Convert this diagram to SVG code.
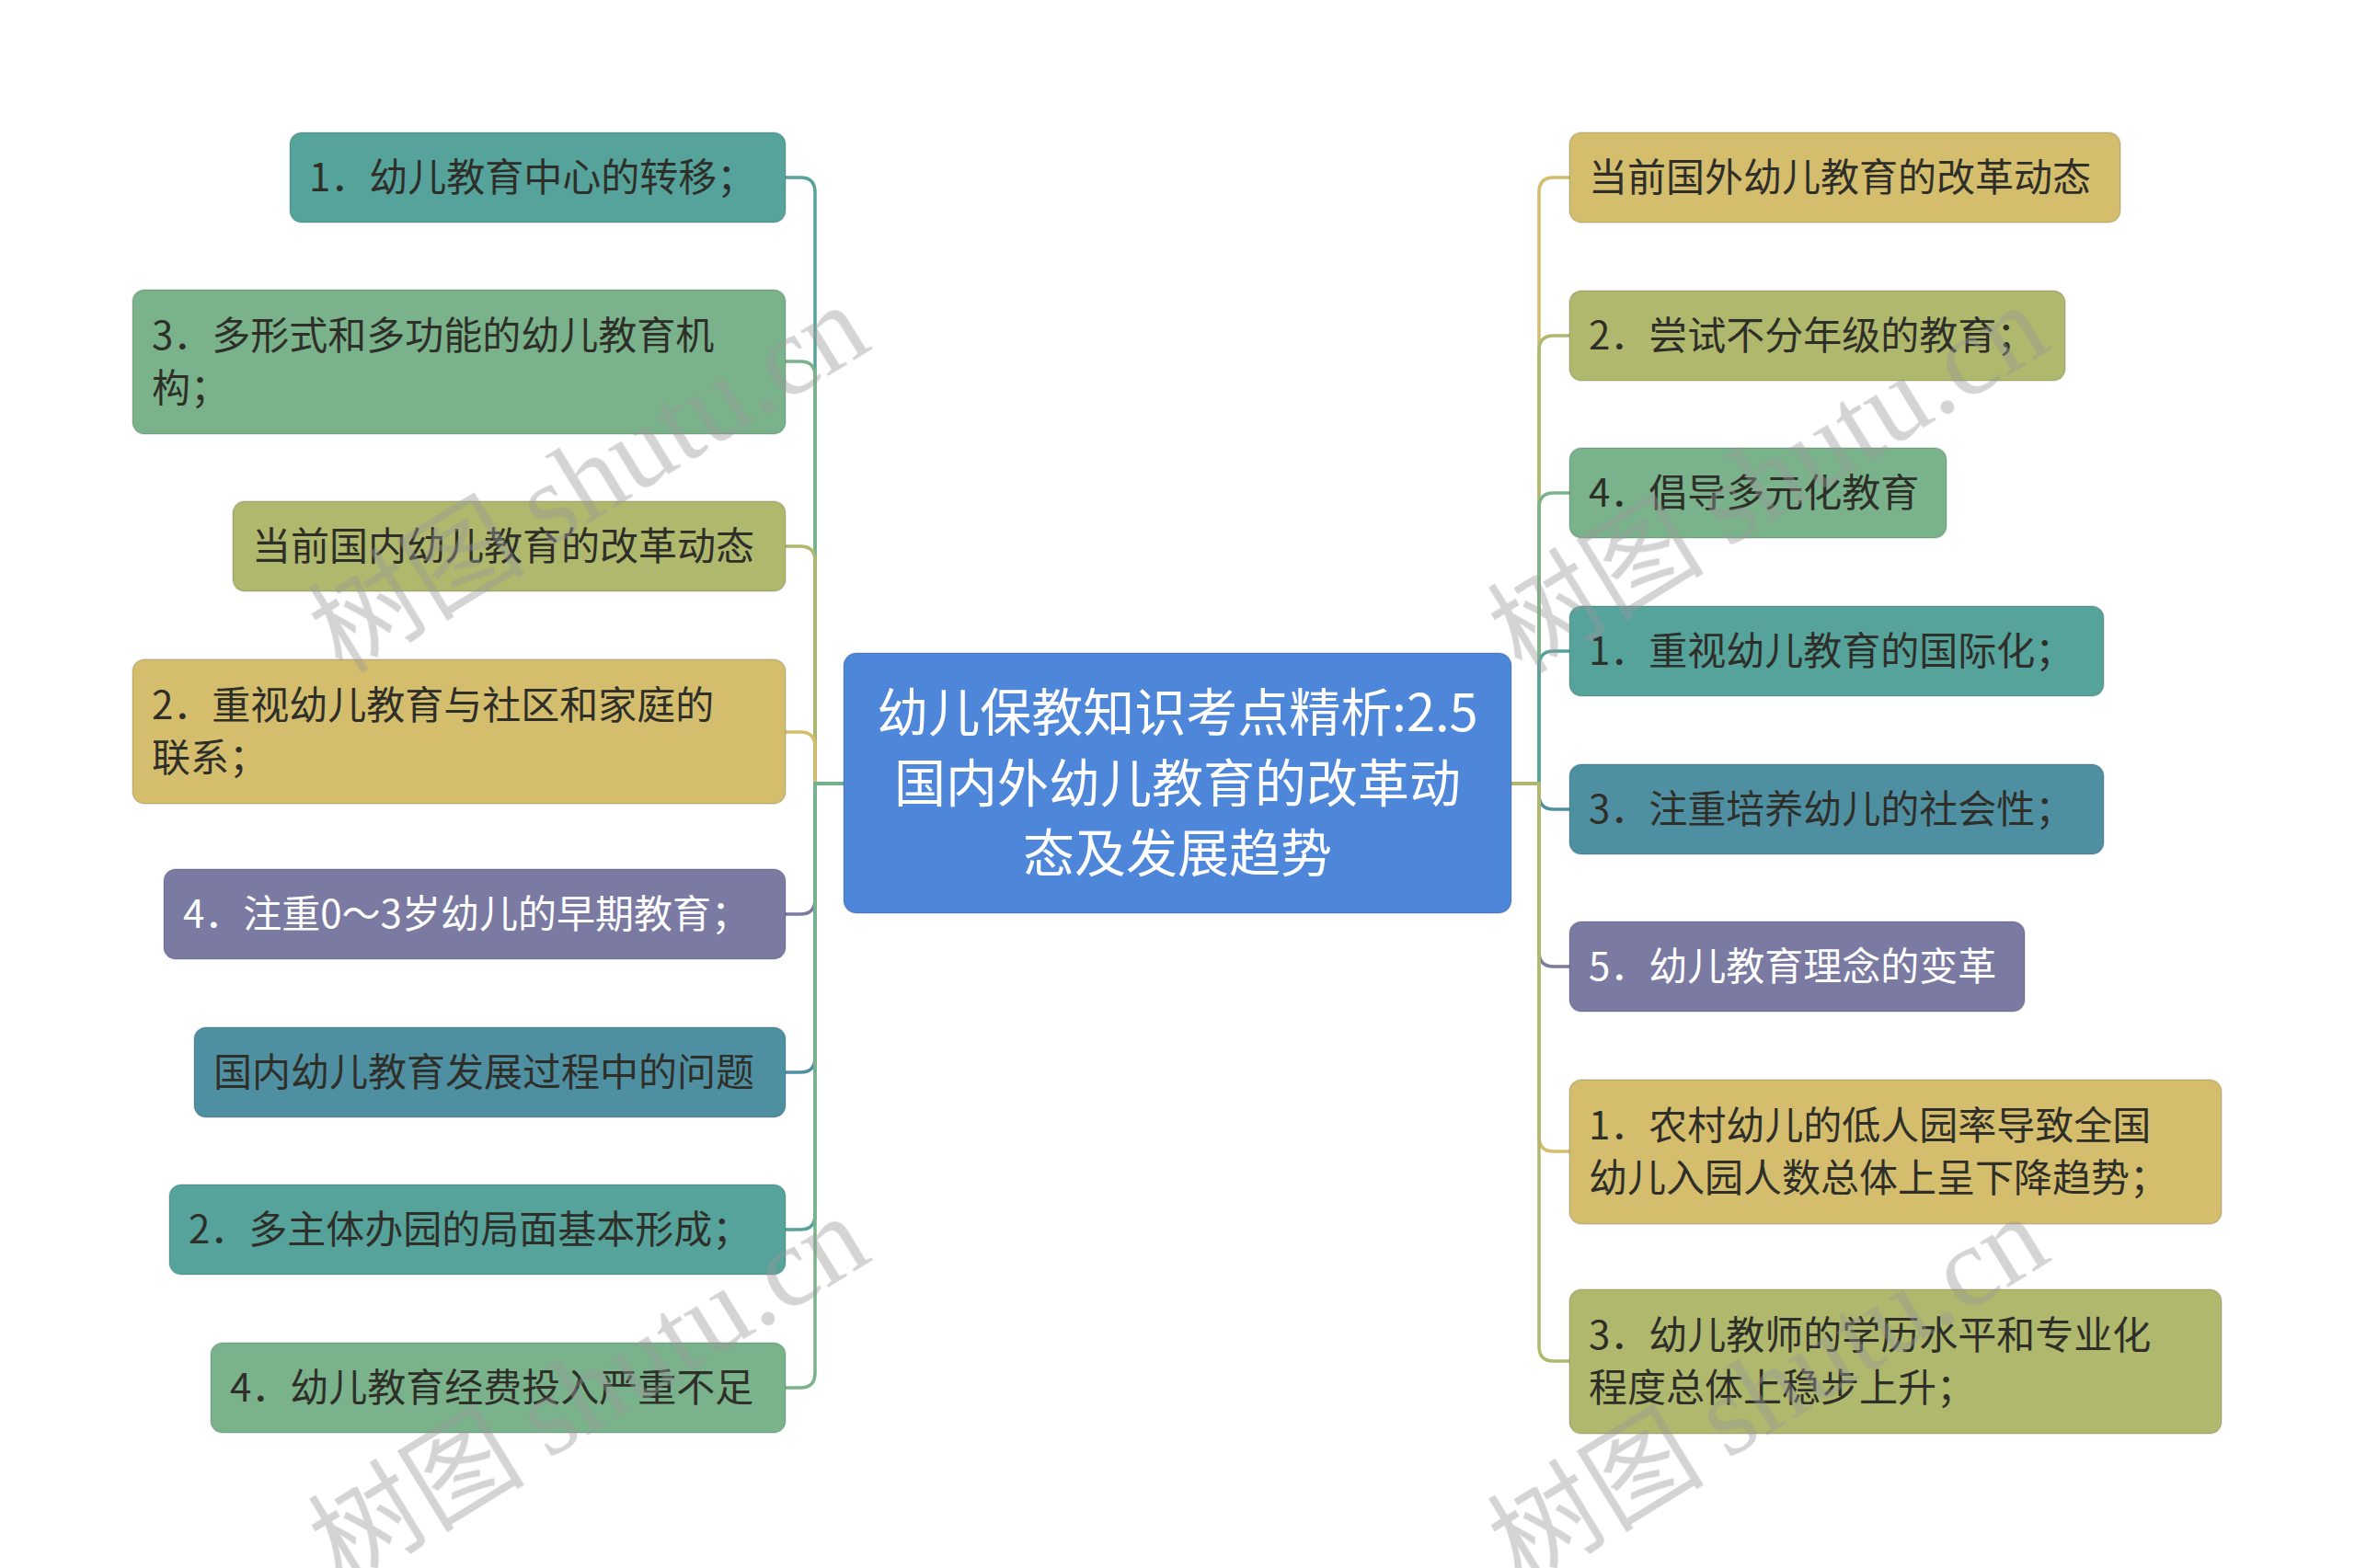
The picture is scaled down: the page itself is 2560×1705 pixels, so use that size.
<svg xmlns="http://www.w3.org/2000/svg" width="2560" height="1705" viewBox="0 0 2560 1705">
<style>
.t{font-family:"Noto Sans CJK SC","Noto Sans",sans-serif;font-size:42px;fill:#2f2f2a}
.w{fill:#ffffff}
.c{font-family:"Noto Sans CJK SC","Noto Sans",sans-serif;font-size:56px;fill:#ffffff;text-anchor:middle}
.n{stroke:rgba(0,0,0,0.10);stroke-width:2}
.teal{fill:#55A39B}.green{fill:#7AB38B}.olive{fill:#AFB86C}.gold{fill:#D4BD6C}.purple{fill:#7A7AA2}.bteal{fill:#4F8FA2}
#connectors path{fill:none;stroke-width:3.5}
.wm{font-family:"Noto Sans CJK SC",serif;font-size:118px;fill:#999999}
.wl{font-family:"Liberation Serif",serif;font-size:124px}
</style>
<rect width="2560" height="1705" fill="#ffffff"/>
<g id="connectors">
<path d="M917 852 H886 V209 Q886 193 870 193 H854" stroke="#55A39B"/>
<path d="M917 852 H886 V409 Q886 393 870 393 H854" stroke="#7AB38B"/>
<path d="M917 852 H886 V610 Q886 594 870 594 H854" stroke="#AFB86C"/>
<path d="M917 852 H886 V812 Q886 796 870 796 H854" stroke="#D4BD6C"/>
<path d="M917 852 H886 V978 Q886 994 870 994 H854" stroke="#7A7AA2"/>
<path d="M917 852 H886 V1150 Q886 1166 870 1166 H854" stroke="#4F8FA2"/>
<path d="M917 852 H886 V1321 Q886 1337 870 1337 H854" stroke="#55A39B"/>
<path d="M917 852 H886 V1493 Q886 1509 870 1509 H854" stroke="#7AB38B"/>
<path d="M1643 852 H1673 V209 Q1673 193 1689 193 H1706" stroke="#D4BD6C"/>
<path d="M1643 852 H1673 V381 Q1673 365 1689 365 H1706" stroke="#AFB86C"/>
<path d="M1643 852 H1673 V552 Q1673 536 1689 536 H1706" stroke="#7AB38B"/>
<path d="M1643 852 H1673 V724 Q1673 708 1689 708 H1706" stroke="#55A39B"/>
<path d="M1643 852 H1673 V864 Q1673 880 1689 880 H1706" stroke="#4F8FA2"/>
<path d="M1643 852 H1673 V1035 Q1673 1051 1689 1051 H1706" stroke="#7A7AA2"/>
<path d="M1643 852 H1673 V1236 Q1673 1252 1689 1252 H1706" stroke="#D4BD6C"/>
<path d="M1643 852 H1673 V1464 Q1673 1480 1689 1480 H1706" stroke="#AFB86C"/>
</g>
<g id="center">
<rect x="917" y="710" width="726" height="283" rx="14" fill="#4E86D9" class="n"/>
<text class="c" x="1280" y="795">幼儿保教知识考点精析:2.5</text>
<text class="c" x="1280" y="872">国内外幼儿教育的改革动</text>
<text class="c" x="1280" y="948">态及发展趋势</text>
</g>
<g id="L1"><rect class="teal n" x="315" y="144" width="539" height="98" rx="13"/><text class="t" x="336" y="208">1．幼儿教育中心的转移；</text></g>
<g id="L2"><rect class="green n" x="144" y="315" width="710" height="157" rx="13"/><text class="t" x="165" y="380">3．多形式和多功能的幼儿教育机</text><text class="t" x="165" y="437">构；</text></g>
<g id="L3"><rect class="olive n" x="253" y="545" width="601" height="98" rx="13"/><text class="t" x="274" y="609">当前国内幼儿教育的改革动态</text></g>
<g id="L4"><rect class="gold n" x="144" y="717" width="710" height="157" rx="13"/><text class="t" x="165" y="782">2．重视幼儿教育与社区和家庭的</text><text class="t" x="165" y="839">联系；</text></g>
<g id="L5"><rect class="purple n" x="178" y="945" width="676" height="98" rx="13"/><text class="t w" x="199" y="1009">4．注重0～3岁幼儿的早期教育；</text></g>
<g id="L6"><rect class="bteal n" x="211" y="1117" width="643" height="98" rx="13"/><text class="t" x="232" y="1181">国内幼儿教育发展过程中的问题</text></g>
<g id="L7"><rect class="teal n" x="184" y="1288" width="670" height="98" rx="13"/><text class="t" x="205" y="1352">2．多主体办园的局面基本形成；</text></g>
<g id="L8"><rect class="green n" x="229" y="1460" width="625" height="98" rx="13"/><text class="t" x="250" y="1524">4．幼儿教育经费投入严重不足</text></g>
<g id="R1"><rect class="gold n" x="1706" y="144" width="599" height="98" rx="13"/><text class="t" x="1727" y="208">当前国外幼儿教育的改革动态</text></g>
<g id="R2"><rect class="olive n" x="1706" y="316" width="539" height="98" rx="13"/><text class="t" x="1727" y="380">2．尝试不分年级的教育；</text></g>
<g id="R3"><rect class="green n" x="1706" y="487" width="410" height="98" rx="13"/><text class="t" x="1727" y="551">4．倡导多元化教育</text></g>
<g id="R4"><rect class="teal n" x="1706" y="659" width="581" height="98" rx="13"/><text class="t" x="1727" y="723">1．重视幼儿教育的国际化；</text></g>
<g id="R5"><rect class="bteal n" x="1706" y="831" width="581" height="98" rx="13"/><text class="t" x="1727" y="895">3．注重培养幼儿的社会性；</text></g>
<g id="R6"><rect class="purple n" x="1706" y="1002" width="495" height="98" rx="13"/><text class="t w" x="1727" y="1066">5．幼儿教育理念的变革</text></g>
<g id="R7"><rect class="gold n" x="1706" y="1174" width="709" height="157" rx="13"/><text class="t" x="1727" y="1239">1．农村幼儿的低人园率导致全国</text><text class="t" x="1727" y="1296">幼儿入园人数总体上呈下降趋势；</text></g>
<g id="R8"><rect class="olive n" x="1706" y="1402" width="709" height="157" rx="13"/><text class="t" x="1727" y="1467">3．幼儿教师的学历水平和专业化</text><text class="t" x="1727" y="1524">程度总体上稳步上升；</text></g>
<g id="watermarks" opacity="0.42">
<text class="wm" transform="translate(645 519) rotate(-31.6)" x="-345" y="40">树图 <tspan class="wl">shutu.cn</tspan></text>
<text class="wm" transform="translate(1927 519) rotate(-31.6)" x="-345" y="40">树图 <tspan class="wl">shutu.cn</tspan></text>
<text class="wm" transform="translate(645 1510) rotate(-31.6)" x="-345" y="40">树图 <tspan class="wl">shutu.cn</tspan></text>
<text class="wm" transform="translate(1927 1510) rotate(-31.6)" x="-345" y="40">树图 <tspan class="wl">shutu.cn</tspan></text>
</g>
</svg>
